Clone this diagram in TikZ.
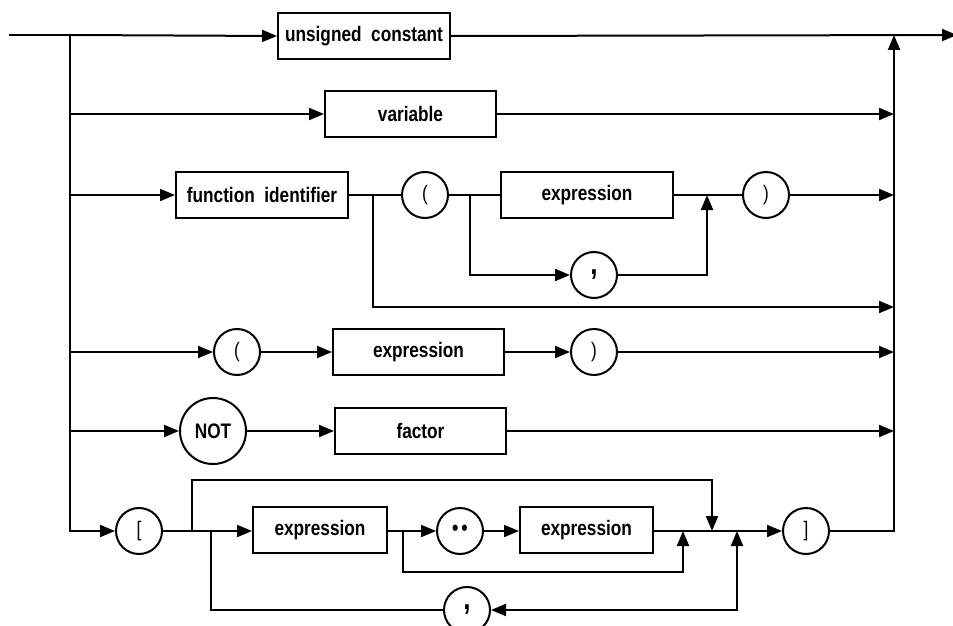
\documentclass[tikz,border=0pt]{standalone}
\usepackage{fontspec}
\setmainfont{Liberation Sans}[FakeStretch=0.82]
\usetikzlibrary{arrows.meta}

\begin{document}
\begin{tikzpicture}[x=1pt,y=-1pt,
  line width=2pt,
  font=\fontsize{21}{23}\selectfont\bfseries,
  flow/.style={-{Triangle[length=15pt,width=12pt]}},
  twoway/.style={{Triangle[length=15pt,width=12pt]}-{Triangle[length=15pt,width=12pt]}},
  wire/.style={-},
  rulebox/.style={draw, rectangle, minimum height=46pt, inner sep=0pt, fill=white},
  term/.style={draw, circle, minimum size=46pt, inner sep=0pt, fill=white},
  paren/.style={font=\fontsize{21}{23}\selectfont\mdseries},
  comma/.style={font=\fontsize{32}{32}\selectfont\bfseries},
]
\useasboundingbox (0,0) rectangle (953,626);

% main entry, exit and the two rails
\coordinate (start) at (9,35);
\coordinate (split) at (70,35);
\coordinate (join) at (894,35);
\coordinate (exit) at (957,35);

% row 1: unsigned constant
\node[rulebox, minimum width=172pt] (uc) at (364,36) {unsigned\ \ constant};

% row 2: variable
\node[rulebox, minimum width=171pt] (var) at (410.5,114) {variable};

% row 3: function call
\node[rulebox, minimum width=172pt] (fid) at (262,195) {function\ \ identifier};
\node[term, paren] (lp1) at (425,195) {(};
\node[rulebox, minimum width=172pt] (ex1) at (587,195) {expression};
\node[term, paren] (rp1) at (766,195) {)};
\node[term, comma] (cm1) at (594,275) {,};

% row 4: parenthesised expression
\node[term, paren] (lp2) at (237,352) {(};
\node[rulebox, minimum width=171pt] (ex2) at (418.5,352) {expression};
\node[term, paren] (rp2) at (594,352) {)};

% row 5: NOT factor
\node[term, minimum size=66pt] (nt) at (213,431) {NOT};
\node[rulebox, minimum width=171pt] (fac) at (420.5,431) {factor};

% row 6: set constructor
\node[term, paren] (lb) at (139,531) {[};
\node[rulebox, minimum width=134pt] (ex3) at (320,530) {expression};
\node[term, font=\fontsize{22}{22}\selectfont\bfseries] (dd) at (460,531) {\raisebox{1pt}{\textbullet\kern3pt\textbullet}};
\node[rulebox, minimum width=133pt] (ex4) at (586.5,530) {expression};
\node[term, paren] (rb) at (806,531) {]};
\node[term, comma] (cm2) at (467,610) {,};

% junction points
\coordinate (fa) at (373,195);
\coordinate (fb) at (470,195);
\coordinate (fc) at (707,195);
\coordinate (sa) at (192,531);
\coordinate (sb) at (211,531);
\coordinate (sc) at (403,531);
\coordinate (sd) at (683,531);
\coordinate (se) at (712,531);
\coordinate (sf) at (737,531);

% trunk
\draw[wire] (start) -- (split);
\draw[flow] (split) -- (uc.west);
\draw[flow] (uc.east) -- (exit);
\draw[flow] (rb.east) -- (join |- rb) -- (join);

% left rail feeding each row
\draw[flow] (split) |- (lb.west);
\draw[flow] (split |- var) -- (var.west);
\draw[flow] (split |- fid) -- (fid.west);
\draw[flow] (split |- lp2) -- (lp2.west);
\draw[flow] (split |- nt) -- (nt.west);

% row 2
\draw[flow] (var.east) -- (join |- var);

% row 3
\draw[wire] (fid.east) -- (lp1.west);
\draw[flow] (fa) -- (fa |- 0,307) -- (join |- 0,307);
\draw[wire] (lp1.east) -- (ex1.west);
\draw[flow] (fb) |- (cm1.west);
\draw[flow] (cm1.east) -| (fc);
\draw[wire] (ex1.east) -- (rp1.west);
\draw[flow] (rp1.east) -- (join |- rp1);

% row 4
\draw[flow] (lp2.east) -- (ex2.west);
\draw[flow] (ex2.east) -- (rp2.west);
\draw[flow] (rp2.east) -- (join |- rp2);

% row 5
\draw[flow] (nt.east) -- (fac.west);
\draw[flow] (fac.east) -- (join |- fac);

% row 6
\draw[flow] (lb.east) -- (ex3.west |- lb);
\draw[flow] (sa) -- (sa |- 0,480) -- (se |- 0,480) -- (se);
\draw[wire] (sb) |- (cm2.west);
\draw[flow] (ex3.east |- dd) -- (dd.west);
\draw[flow] (sc) -- (sc |- 0,572) -- (sd |- 0,572) -- (sd);
\draw[flow] (dd.east) -- (ex4.west |- dd);
\draw[flow] (ex4.east |- rb) -- (rb.west);
\draw[twoway] (cm2.east) -- (sf |- cm2) -- (sf);
\end{tikzpicture}
\end{document}
